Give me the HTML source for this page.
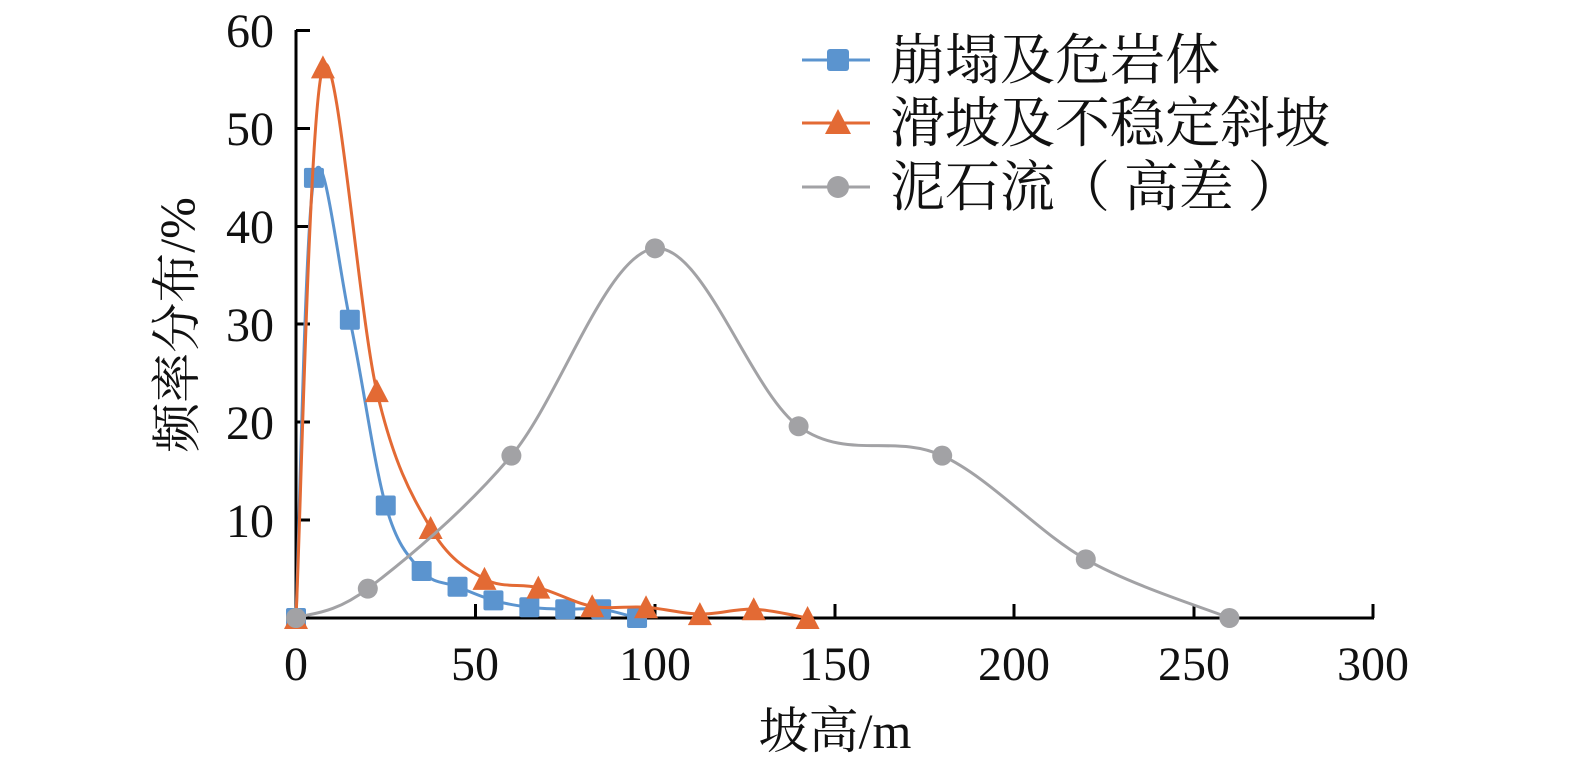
<!DOCTYPE html>
<html><head><meta charset="utf-8"><style>
html,body{margin:0;padding:0;background:#fff;}
svg{display:block;}
text{font-family:"Liberation Serif","Noto Serif CJK SC",serif;fill:#111;}
</style></head><body>
<svg id="s" width="1575" height="765" viewBox="0 0 1575 765" xmlns="http://www.w3.org/2000/svg">
<g stroke="#000" stroke-width="3" fill="none">
<line x1="296" y1="30" x2="296" y2="618"/>
<line x1="294" y1="618" x2="1374" y2="618"/>
<line x1="296" y1="30.5" x2="310" y2="30.5"/>
<line x1="296" y1="128.5" x2="310" y2="128.5"/>
<line x1="296" y1="226.5" x2="310" y2="226.5"/>
<line x1="296" y1="324" x2="310" y2="324"/>
<line x1="296" y1="422" x2="310" y2="422"/>
<line x1="296" y1="520" x2="310" y2="520"/>
<line x1="475.5" y1="604" x2="475.5" y2="618"/>
<line x1="655" y1="604" x2="655" y2="618"/>
<line x1="835" y1="604" x2="835" y2="618"/>
<line x1="1014" y1="604" x2="1014" y2="618"/>
<line x1="1194" y1="604" x2="1194" y2="618"/>
<line x1="1373" y1="604" x2="1373" y2="618"/>
</g>
<g font-size="48" text-anchor="end">
<text x="274" y="47">60</text><text x="274" y="145">50</text><text x="274" y="243">40</text>
<text x="274" y="341">30</text><text x="274" y="439">20</text><text x="274" y="537">10</text>
</g>
<g font-size="48" text-anchor="middle">
<text x="296" y="680">0</text><text x="475" y="680">50</text><text x="655" y="680">100</text>
<text x="835" y="680">150</text><text x="1014" y="680">200</text><text x="1194" y="680">250</text><text x="1373" y="680">300</text>
</g>
<text x="835" y="748" font-size="50" text-anchor="middle">坡高/m</text>
<text transform="translate(194,325) rotate(-90)" font-size="50" text-anchor="middle">频率分布/%</text>
<g id="series"></g>
<g font-size="55">
<line x1="802" y1="60" x2="870" y2="60" stroke="#5B94CF" stroke-width="3"/>
<rect x="827" y="49" width="22" height="22" rx="3" fill="#5B94CF"/>
<text x="890" y="79">崩塌及危岩体</text>
<line x1="802" y1="123" x2="870" y2="123" stroke="#E36A34" stroke-width="3"/>
<polygon points="838,109 851,134 825,134" fill="#E36A34"/>
<text x="890" y="142">滑坡及不稳定斜坡</text>
<line x1="802" y1="187" x2="870" y2="187" stroke="#A2A2A5" stroke-width="3"/>
<circle cx="838" cy="187" r="11" fill="#A2A2A5"/>
<text x="890" y="206">泥石流（ 高差 ）</text>
</g>
</svg>
<script>
var X=function(v){return 296+v*3.59;},Y=function(v){return 618-v*9.78;};
var S=[
{c:"#5B94CF",m:"s",d:[[0,0],[5,45],[15,30.5],[25,11.5],[35,4.8],[45,3.2],[55,1.8],[65,1.1],[75,0.9],[85,0.9],[95,0]]},
{c:"#E36A34",m:"t",d:[[0,0],[7.5,56.3],[22.5,23.2],[37.5,9.2],[52.5,4],[67.5,3.1],[82.5,1.2],[97.5,1.1],[112.5,0.4],[127.5,0.9],[142.5,0]]},
{c:"#A2A2A5",m:"c",d:[[0,0],[20,3],[60,16.6],[100,37.8],[140,19.6],[180,16.6],[220,6],[260,0]]}];
var g=document.getElementById("series"),h="";
S.forEach(function(s){
 var p=s.d.map(function(q){return [X(q[0]),Y(q[1])];});
 var d="M"+p[0][0]+","+p[0][1];
 for(var i=0;i<p.length-1;i++){
  var p0=p[i-1]||p[i],p1=p[i],p2=p[i+1],p3=p[i+2]||p2,t=6;
  d+=" C"+(p1[0]+(p2[0]-p0[0])/t)+","+(p1[1]+(p2[1]-p0[1])/t)+" "+(p2[0]-(p3[0]-p1[0])/t)+","+(p2[1]-(p3[1]-p1[1])/t)+" "+p2[0]+","+p2[1];
 }
 h+='<path d="'+d+'" fill="none" stroke="'+s.c+'" stroke-width="3"/>';
 p.forEach(function(q){
  if(s.m=="s")h+='<rect x="'+(q[0]-10)+'" y="'+(q[1]-10)+'" width="20" height="20" rx="2" fill="'+s.c+'"/>';
  else if(s.m=="t")h+='<polygon points="'+q[0]+','+(q[1]-12)+' '+(q[0]+12)+','+(q[1]+11)+' '+(q[0]-12)+','+(q[1]+11)+'" fill="'+s.c+'"/>';
  else h+='<circle cx="'+q[0]+'" cy="'+q[1]+'" r="10" fill="'+s.c+'"/>';
 });
});
g.innerHTML=h;
</script>
</body></html>
